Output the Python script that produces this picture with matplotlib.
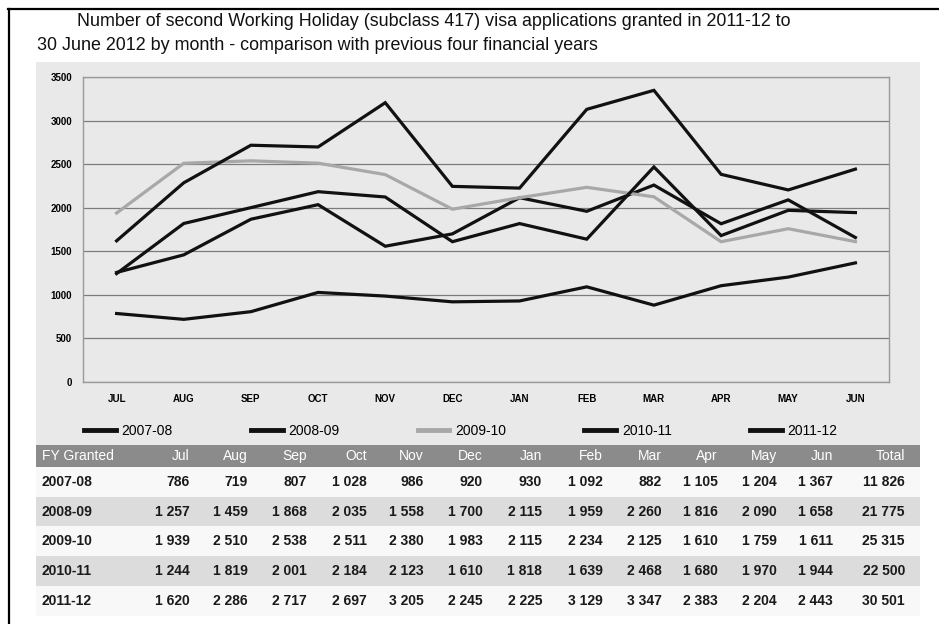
import matplotlib
matplotlib.use('Agg')
import matplotlib.pyplot as plt
from matplotlib.patches import Rectangle
from matplotlib.lines import Line2D

months = ['JUL', 'AUG', 'SEP', 'OCT', 'NOV', 'DEC', 'JAN', 'FEB', 'MAR', 'APR', 'MAY', 'JUN']
table_cols = ['Jul', 'Aug', 'Sep', 'Oct', 'Nov', 'Dec', 'Jan', 'Feb', 'Mar', 'Apr', 'May', 'Jun', 'Total']
years = ['2007-08', '2008-09', '2009-10', '2010-11', '2011-12']

fy_2007_08 = [786, 719, 807, 1028, 986, 920, 930, 1092, 882, 1105, 1204, 1367]
fy_2008_09 = [1257, 1459, 1868, 2035, 1558, 1700, 2115, 1959, 2260, 1816, 2090, 1658]
fy_2009_10 = [1939, 2510, 2538, 2511, 2380, 1983, 2115, 2234, 2125, 1610, 1759, 1611]
fy_2010_11 = [1244, 1819, 2001, 2184, 2123, 1610, 1818, 1639, 2468, 1680, 1970, 1944]
fy_2011_12 = [1620, 2286, 2717, 2697, 3205, 2245, 2225, 3129, 3347, 2383, 2204, 2443]
totals = [11826, 21775, 25315, 22500, 30501]

series = [fy_2007_08, fy_2008_09, fy_2009_10, fy_2010_11, fy_2011_12]
line_colors = ['#111111', '#111111', '#a8a8a8', '#111111', '#111111']

TITLE = ("Number of second Working Holiday (subclass 417) visa applications granted in 2011-12 to",
         "30 June 2012 by month - comparison with previous four financial years")

plt.rcParams['font.family'] = ['Liberation Sans', 'DejaVu Sans']


def fmt(v):
    return f"{v:,}".replace(',', ' ')


W, H = 939, 624
fig = plt.figure(figsize=(W / 100, H / 100), dpi=100)
fig.patch.set_facecolor('white')

# background layer in pixel coordinates
bg = fig.add_axes([0, 0, 1, 1])
bg.set_xlim(0, W)
bg.set_ylim(H, 0)
bg.axis('off')

# black frame (top + left)
bg.plot([8, W], [9, 9], color='black', lw=1.6)
bg.plot([9, 9], [9, H], color='black', lw=1.6)

# grey chart panel
bg.add_patch(Rectangle((36, 62), 884, 383, fc='#e9e9e9', ec='none'))

# title
bg.text(77, 22, TITLE[0], fontsize=12.9, va='center', ha='left', color='#111111')
bg.text(37, 45, TITLE[1], fontsize=12.9, va='center', ha='left', color='#111111')

# --- Line chart ---
ax = fig.add_axes([83 / W, 1 - 382 / H, (889 - 83) / W, (382 - 77) / H])
ax.set_facecolor('#e9e9e9')
x = list(range(len(months)))
for vals, c in zip(series, line_colors):
    ax.plot(x, vals, color=c, lw=2.3, solid_joinstyle='miter')

ax.set_xlim(-0.5, 11.5)
ax.set_ylim(0, 3500)
ax.set_yticks(range(0, 3501, 500))
ax.set_xticks(x)
ax.set_xticklabels(months, fontsize=7, fontweight='bold')
ax.tick_params(axis='y', labelsize=7, length=0, pad=8)
ax.tick_params(axis='x', length=0, pad=9)
for lab in ax.get_yticklabels():
    lab.set_fontweight('bold')
ax.grid(axis='y', color='#7c7c7c', lw=0.9)
ax.set_axisbelow(True)
for sp in ax.spines.values():
    sp.set_color('#9a9a9a')
    sp.set_linewidth(1)

# legend
handles = [Line2D([], [], color=c, lw=3.5) for c in line_colors]
fig.legend(handles, years, loc='center', ncol=5, mode='expand', frameon=False,
           bbox_to_anchor=(78 / W, 1 - 441 / H, (843 - 78) / W, 20 / H),
           fontsize=10, handlelength=2.3, handletextpad=0.4, borderaxespad=0)

# --- Data table ---
col_right = [190, 248, 307, 367, 424, 483, 542, 603, 662, 718, 777, 833, 905]
row_h = 29.7
bg.add_patch(Rectangle((36, 445), 884, 22, fc='#8b8b8b', ec='none'))
bg.text(42, 456, 'FY Granted', fontsize=10, color='white', va='center', ha='left')
for cx, name in zip(col_right, table_cols):
    bg.text(cx, 456, name, fontsize=10, color='white', va='center', ha='right')

for i, (yr, vals, tot) in enumerate(zip(years, series, totals)):
    top = 467 + i * row_h
    bg.add_patch(Rectangle((36, top), 884, row_h,
                           fc='#dcdcdc' if i % 2 == 1 else '#f8f8f8', ec='none'))
    cy = top + row_h / 2
    bg.text(42, cy, yr, fontsize=10, fontweight='bold', color='#1a1a1a', va='center', ha='left')
    for cx, v in zip(col_right, vals + [tot]):
        bg.text(cx, cy, fmt(v), fontsize=10, fontweight='bold', color='#1a1a1a',
                va='center', ha='right')

fig.savefig('out.png', dpi=100, facecolor='white')
